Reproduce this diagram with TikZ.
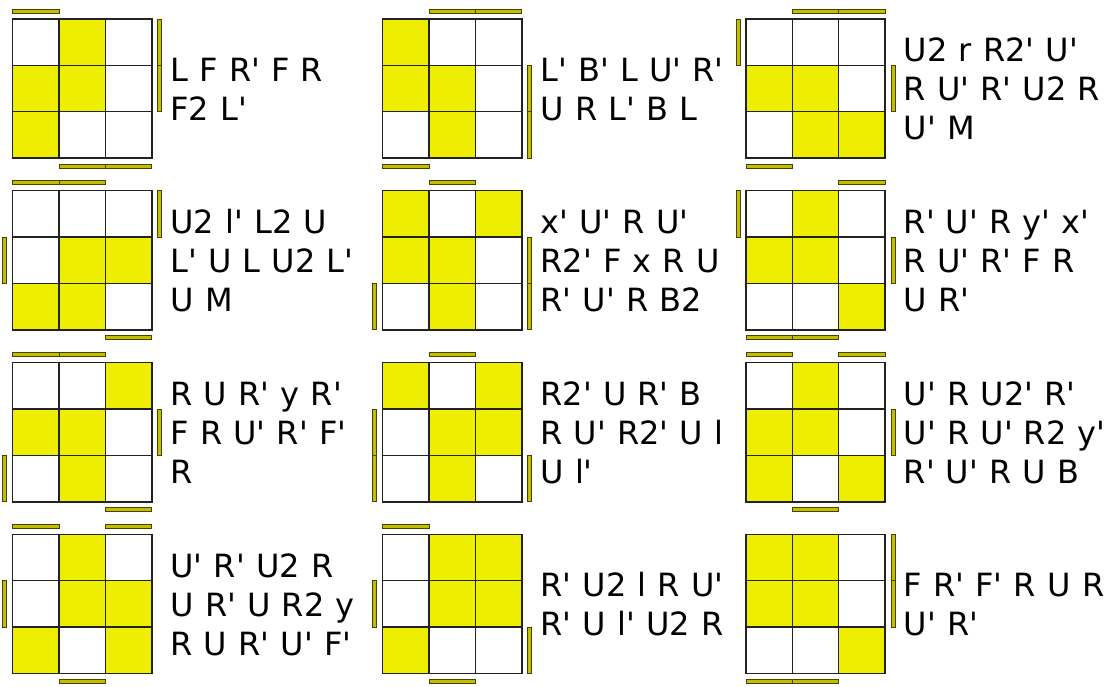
\documentclass[tikz,border=0pt]{standalone}
\usepackage{fontspec}
\newfontfamily\algfont{DejaVu Sans}[Ligatures=TeXOff,WordSpace=1.1]
\definecolor{stk}{RGB}{238,238,0}
\definecolor{barfill}{RGB}{196,190,0}
\definecolor{barline}{RGB}{70,66,0}
\definecolor{gridcol}{RGB}{34,34,34}
\def\cellsz{46.35}
\tikzset{
  gridln/.style={draw=gridcol, line width=1.5pt},
  barst/.style={fill=barfill, draw=barline, line width=0.9pt},
  alg/.style={font=\algfont\fontsize{32}{39}\selectfont, anchor=north west, inner sep=0pt, align=left, text=black}
}
\pgfkeys{
  /oll/t/.code={\draw[barst] ({\gx+(#1-1)*\cellsz},{\gy-10}) rectangle ++(\cellsz,4);},
  /oll/b/.code={\draw[barst] ({\gx+(#1-1)*\cellsz},{\gy+3*\cellsz+6}) rectangle ++(\cellsz,4);},
  /oll/l/.code={\draw[barst] ({\gx-10},{\gy+(#1-1)*\cellsz}) rectangle ++(4,\cellsz);},
  /oll/r/.code={\draw[barst] ({\gx+3*\cellsz+6},{\gy+(#1-1)*\cellsz}) rectangle ++(4,\cellsz);}
}
% #1 id, #2 gx, #3 gy, #4 yellow list row/col, #5 bar list side/index, #6 number of lines, #7 text
\newcommand\ollcase[7]{%
  \def\gx{#2}\def\gy{#3}%
  \foreach \yr/\yc in {#4} {\fill[stk] ({\gx+(\yc-1)*\cellsz},{\gy+(\yr-1)*\cellsz}) rectangle ++(\cellsz,\cellsz);}
  \draw[gridln] (\gx,\gy) rectangle ++({3*\cellsz},{3*\cellsz});
  \foreach \k in {1,2} {
    \draw[gridln] ({\gx+\k*\cellsz},\gy) -- ++(0,{3*\cellsz});
    \draw[gridln] (\gx,{\gy+\k*\cellsz}) -- ++({3*\cellsz},0);
  }
  \foreach \bs/\bi in {#5} {\edef\tmpkey{\noexpand\pgfkeys{/oll/\bs=\bi}}\tmpkey}
  \node[alg] (#1) at ({\gx+3*\cellsz+18.5},{\gy+69.5+12-(#6-1)*19.5-25.6}) {\rule{0pt}{0.8em}#7};
}
\begin{document}
\begin{tikzpicture}[x=1pt,y=-1pt]
\fill[white] (0,0) rectangle (1115,686);
\useasboundingbox (0,0) rectangle (1115,686);
% row 1
\ollcase{t1}{12.7}{19}{1/2,2/1,2/2,3/1}{t/1,r/1,r/2,b/2,b/3}{2}{L F R' F R\\F2 L'}
\ollcase{t2}{382.7}{19}{1/1,2/1,2/2,3/2}{t/2,t/3,r/2,r/3,b/1}{2}{L' B' L U' R'\\U R L' B L}
\ollcase{t3}{746}{19}{2/1,2/2,3/2,3/3}{t/2,t/3,l/1,r/2,b/1}{3}{U2 r R2' U'\\R U' R' U2 R\\U' M}
% row 2
\ollcase{t4}{12.7}{190.7}{2/2,2/3,3/1,3/2}{t/1,t/2,r/1,l/2,b/3}{3}{U2 l' L2 U\\L' U L U2 L'\\U M}
\ollcase{t5}{382.7}{190.7}{1/1,1/3,2/1,2/2,3/2}{t/2,r/2,r/3,l/3}{3}{x' U' R U'\\R2' F x R U\\R' U' R B2}
\ollcase{t6}{746}{190.7}{1/2,2/1,2/2,3/3}{t/3,l/1,r/2,b/1,b/2}{3}{R' U' R y' x'\\R U' R' F R\\U R'}
% row 3
\ollcase{t7}{12.7}{362.7}{1/3,2/1,2/2,3/2}{t/1,t/2,r/2,l/3,b/3}{3}{R U R' y R'\\F R U' R' F'\\R}
\ollcase{t8}{382.7}{362.7}{1/1,1/3,2/2,2/3,3/2}{t/2,l/2,l/3,r/3}{3}{R2' U R' B\\R U' R2' U l\\U l'}
\ollcase{t9}{746}{362.7}{1/2,2/1,2/2,3/1,3/3}{t/1,t/3,r/2,b/2}{3}{U' R U2' R'\\U' R U' R2 y'\\R' U' R U B}
% row 4
\ollcase{t10}{12.7}{534.3}{1/2,2/2,2/3,3/1,3/3}{t/1,t/3,l/2,b/2}{3}{U' R' U2 R\\U R' U R2 y\\R U R' U' F'}
\ollcase{t11}{382.7}{534.3}{1/2,1/3,2/2,2/3,3/1}{t/1,l/2,r/3,b/2}{2}{R' U2 l R U'\\R' U l' U2 R}
\ollcase{t12}{746}{534.3}{1/1,1/2,2/1,2/2,3/3}{r/1,r/2,b/1,b/2}{2}{F R' F' R U R\\U' R'}
\end{tikzpicture}
\end{document}
